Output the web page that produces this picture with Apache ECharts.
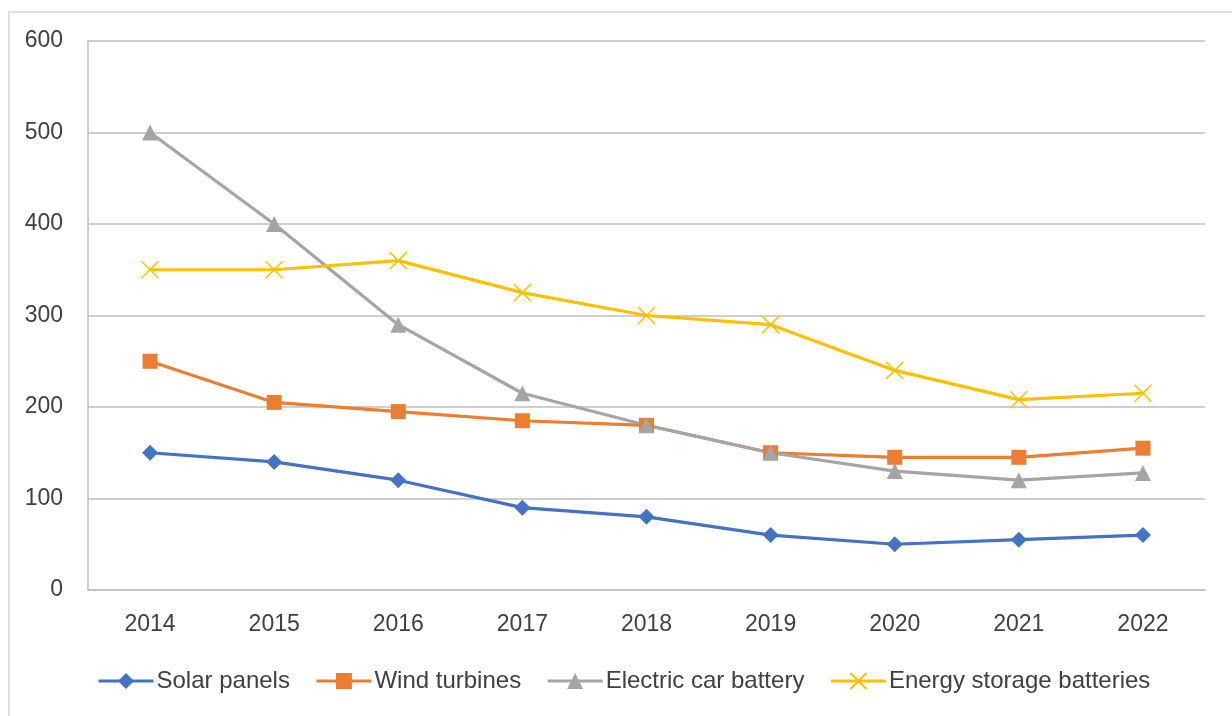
<!DOCTYPE html>
<html><head><meta charset="utf-8">
<script src="https://cdn.jsdelivr.net/npm/echarts@6/dist/echarts.min.js"></script>
<style>html,body{margin:0;padding:0;background:#fff}#c{width:1232px;height:716px}</style>
</head><body><div id="c"></div>
<script>
const years = ['2014','2015','2016','2017','2018','2019','2020','2021','2022'];
const solarPanels = [150,140,120,90,80,60,50,55,60];
const windTurbines = [250,205,195,185,180,150,145,145,155];
const electricCarBattery = [500,400,290,215,180,150,130,120,128];
const energyStorage = [350,350,360,325,300,290,240,208,215];
const yTicks = [0,100,200,300,400,500,600];

const font = 'Liberation Sans';
const chart = echarts.init(document.getElementById('c'));
function mk(name, data, color, symbol, size, extra) {
  return Object.assign({
    name, type:'line', data, symbol, symbolSize:size,
    lineStyle:{color, width:3.2}, itemStyle:{color},
    z: 3
  }, extra||{});
}
chart.setOption({
  animation:false,
  graphic:[{type:'rect', shape:{x:9,y:12,width:1400,height:900}, style:{fill:'none', stroke:'#d6d6d6', lineWidth:1.5}, silent:true}],
  grid:{left:88, right:27, top:41, bottom:126},
  xAxis:{type:'category', data:years, boundaryGap:true,
    axisLine:{lineStyle:{color:'#bfbfbf', width:1.5}}, axisTick:{show:false},
    axisLabel:{color:'#404040', fontFamily:font, fontSize:23, margin:23}},
  yAxis:{type:'value', min:yTicks[0], max:yTicks[yTicks.length-1], interval:100,
    axisLine:{show:true, lineStyle:{color:'#bfbfbf', width:1.5}}, axisTick:{show:false},
    splitLine:{lineStyle:{color:'#bfbfbf', width:1.5}},
    axisLabel:{color:'#404040', fontFamily:font, fontSize:23, margin:25}},
  legend:{left:97, top:669, padding:0, itemWidth:55, itemHeight:20, itemGap:25,
    lineStyle:{width:3},
    textStyle:{color:'#404040', fontFamily:font, fontSize:24, padding:[0,0,0,-2]},
    data:['Solar panels','Wind turbines','Electric car battery','Energy storage batteries']},
  series:[
    mk('Solar panels', solarPanels, '#4472C4', 'diamond', 16),
    mk('Wind turbines', windTurbines, '#ED7D31', 'rect', 15),
    mk('Electric car battery', electricCarBattery, '#A5A5A5', 'triangle', 16),
    mk('Energy storage batteries', energyStorage, '#FFC000', 'path://M0,0L20,20M20,0L0,20', 17,
      {itemStyle:{color:'#FFC000', borderColor:'#FFC000', borderWidth:1.5}})
  ]
});
</script></body></html>
